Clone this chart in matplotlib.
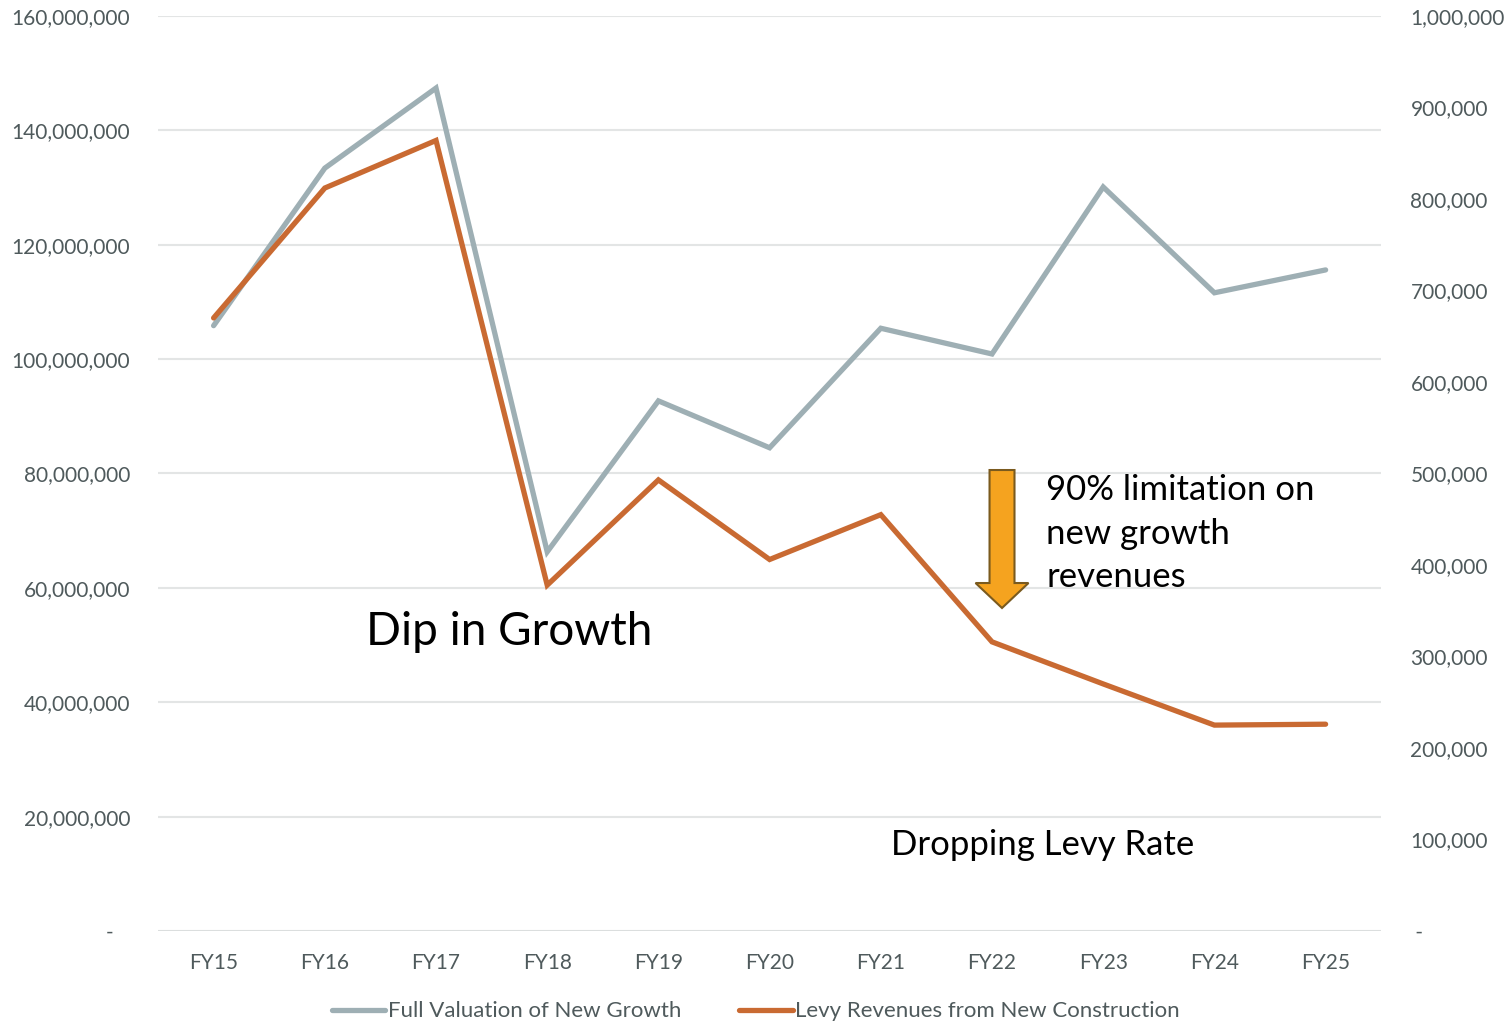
import matplotlib
matplotlib.use("Agg")
import matplotlib.pyplot as plt
from matplotlib.ticker import FuncFormatter, MultipleLocator
from matplotlib.patches import FancyArrow

plt.rcParams['font.family'] = ['Lato', 'DejaVu Sans']

years = ["FY15", "FY16", "FY17", "FY18", "FY19", "FY20",
         "FY21", "FY22", "FY23", "FY24", "FY25"]
full_valuation = [105.85e6, 133.4e6, 147.4e6, 66.3e6, 92.7e6, 84.5e6,
                  105.4e6, 100.9e6, 130.1e6, 111.6e6, 115.6e6]
levy_revenues = [670e3, 812e3, 864e3, 378e3, 493e3, 406e3,
                 455e3, 316e3, 270e3, 225e3, 226e3]

GRAY = "#9EAFB4"
ORANGE = "#C96A32"
TEXT = "#4F5A5C"
GRID = "#E3E5E5"

fig = plt.figure(figsize=(15.12, 10.27), dpi=100)
ax = fig.add_axes([0.1045, 0.0935, 0.809, 0.8909])
ax2 = ax.twinx()

x = list(range(len(years)))
l1, = ax.plot(x, full_valuation, color=GRAY, lw=3.8, solid_capstyle='round',
              solid_joinstyle='miter', label="Full Valuation of New Growth", zorder=3)
l2, = ax2.plot(x, levy_revenues, color=ORANGE, lw=3.8, solid_capstyle='round',
               solid_joinstyle='miter', label="Levy Revenues from New Construction", zorder=3)

ax.set_xlim(-0.5, len(years) - 0.5)
ax.set_ylim(0, 160e6)
ax2.set_ylim(0, 1e6)
ax.yaxis.set_major_locator(MultipleLocator(20e6))
ax2.yaxis.set_major_locator(MultipleLocator(100e3))


def left_fmt(v, pos):
    return "-   " if abs(v) < 1 else f"{v:,.0f}"


def right_fmt(v, pos):
    return " -" if abs(v) < 1 else f"{v:,.0f}"


ax.yaxis.set_major_formatter(FuncFormatter(left_fmt))
ax2.yaxis.set_major_formatter(FuncFormatter(right_fmt))
ax.set_xticks(x)
ax.set_xticklabels(years)

ax.grid(axis='y', color=GRID, lw=1.5)
ax.set_axisbelow(True)
for a in (ax, ax2):
    for s in a.spines.values():
        s.set_visible(False)
ax.axhline(0, color="#D9DDDD", lw=1.8, zorder=1)

ax.tick_params(axis='y', length=0, pad=20, labelsize=15, labelcolor=TEXT)
ax2.tick_params(axis='y', length=0, pad=21, labelsize=15, labelcolor=TEXT)
ax.tick_params(axis='x', length=0, pad=16, labelsize=15, labelcolor=TEXT)

# Annotations
ax.text(0.287, 0.327, "Dip in Growth", transform=ax.transAxes,
        ha='center', va='center', fontsize=33, color='black')
ax.text(0.7236, 0.094, "Dropping Levy Rate", transform=ax.transAxes,
        ha='center', va='center', fontsize=25, color='black')
ax.text(0.7261, 0.4341, "90% limitation on\nnew growth\nrevenues",
        transform=ax.transAxes, ha='left', va='center', fontsize=25,
        linespacing=1.45, color='black')

arrow = FancyArrow(0.690, 0.5038, 0, -0.1508, width=0.0204,
                   head_width=0.0433, head_length=0.0273,
                   length_includes_head=True, transform=ax.transAxes,
                   facecolor="#F5A31F", edgecolor="#7A5A1E", lw=1.5, zorder=4)
ax.add_patch(arrow)

fig.legend(handles=[l1, l2], loc='lower center', bbox_to_anchor=(0.5, -0.014),
           ncol=2, frameon=False, fontsize=16, handlelength=2.4,
           handletextpad=0.12, columnspacing=2.6, labelcolor=TEXT)

fig.savefig("out.png", dpi=100)
